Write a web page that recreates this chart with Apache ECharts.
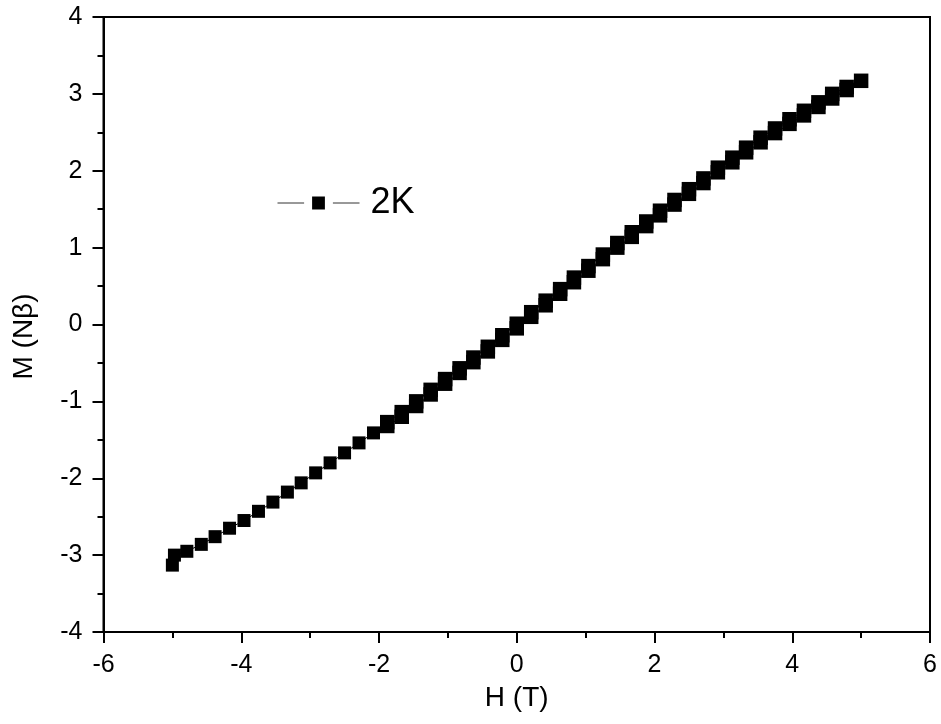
<!DOCTYPE html>
<html>
<head>
<meta charset="utf-8">
<script src="https://cdn.jsdelivr.net/npm/echarts@6/dist/echarts.min.js"></script>
<style>
html,body{margin:0;padding:0;background:#fff;}
#chart{width:941px;height:724px;}
</style>
</head>
<body>
<div id="chart"></div>
<script>
const seriesName = '2K';
// sweep: -5 T up to +5 T, then back down to about -1.9 T
const fieldH = [-5.00, -4.97, -4.79, -4.58, -4.38, -4.17, -3.96, -3.75, -3.54, -3.33, -3.13,
  -2.92, -2.71, -2.50, -2.29, -2.08, -1.88, -1.67, -1.46, -1.25, -1.04,
  -0.83, -0.63, -0.42, -0.21, 0.00, 0.21, 0.42, 0.63, 0.83, 1.04,
  1.25, 1.46, 1.67, 1.88, 2.08, 2.29, 2.50, 2.71, 2.92, 3.13,
  3.33, 3.54, 3.75, 3.96, 4.17, 4.38, 4.58, 4.79, 5.00,
  4.79, 4.58, 4.38, 4.17, 3.96, 3.75, 3.54, 3.33, 3.13, 2.92,
  2.71, 2.50, 2.29, 2.08, 1.88, 1.67, 1.46, 1.25, 1.04, 0.83,
  0.63, 0.42, 0.21, 0.00, -0.21, -0.42, -0.63, -0.83, -1.04, -1.25,
  -1.46, -1.67, -1.88];
const magnetM = [-3.13, -3.00, -2.95, -2.86, -2.76, -2.65, -2.55, -2.43, -2.31, -2.18, -2.06,
  -1.93, -1.80, -1.67, -1.54, -1.41, -1.32, -1.20, -1.06, -0.91, -0.77,
  -0.63, -0.49, -0.35, -0.20, -0.05, 0.10, 0.25, 0.40, 0.55, 0.70,
  0.85, 1.00, 1.14, 1.28, 1.42, 1.56, 1.70, 1.84, 1.98, 2.11,
  2.24, 2.37, 2.49, 2.61, 2.72, 2.83, 2.94, 3.05, 3.17,
  3.09, 3.00, 2.89, 2.78, 2.67, 2.55, 2.43, 2.30, 2.17, 2.04,
  1.90, 1.76, 1.62, 1.48, 1.34, 1.20, 1.06, 0.91, 0.76, 0.61,
  0.46, 0.31, 0.16, 0.01, -0.14, -0.29, -0.43, -0.57, -0.71, -0.85,
  -1.00, -1.14, -1.27];
const xTicks = ['-6', '-4', '-2', '0', '2', '4', '6'];
const yTicks = ['-4', '-3', '-2', '-1', '0', '1', '2', '3', '4'];

const points = fieldH.map((h, i) => [h, magnetM[i]]);
const font = '"Liberation Sans", Arial, sans-serif';
const chart = echarts.init(document.getElementById('chart'), null, {renderer: 'canvas'});
chart.setOption({
  backgroundColor: '#fff',
  animation: false,
  grid: {left: 103.5, right: 11, top: 17, bottom: 92, show: true, borderColor: '#000', borderWidth: 2, backgroundColor: 'transparent'},
  legend: {
    left: 277, top: 185, padding: 0,
    itemWidth: 82, itemHeight: 26,
    itemStyle: {color: '#000', borderColor: '#fff', borderWidth: 8},
    lineStyle: {color: '#333', width: 1},
    textStyle: {fontSize: 36, fontFamily: font, color: '#000', padding: [0, 0, 0, 6]},
    data: [seriesName]
  },
  xAxis: {
    type: 'value', min: -6, max: 6, interval: 2,
    name: 'H (T)', nameLocation: 'middle', nameGap: 52,
    nameTextStyle: {fontSize: 28, fontFamily: font, color: '#000'},
    axisLine: {show: true, onZero: false, lineStyle: {color: '#000', width: 2}},
    axisTick: {show: true, inside: false, length: 11, lineStyle: {color: '#000', width: 2}},
    minorTick: {show: true, splitNumber: 2, length: 6, lineStyle: {color: '#000', width: 2}},
    splitLine: {show: false},
    axisLabel: {fontSize: 25, fontFamily: font, color: '#000', margin: 21,
      formatter: v => xTicks[Math.round((v + 6) / 2)]}
  },
  yAxis: {
    type: 'value', min: -4, max: 4, interval: 1,
    name: 'M (N\u03b2)', nameLocation: 'middle', nameGap: 65, nameRotate: 90,
    nameTextStyle: {fontSize: 28, fontFamily: font, color: '#000', padding: [0, 24, 0, 0]},
    axisLine: {show: true, onZero: false, lineStyle: {color: '#000', width: 2}},
    axisTick: {show: true, inside: false, length: 11, lineStyle: {color: '#000', width: 2}},
    minorTick: {show: true, splitNumber: 2, length: 6, lineStyle: {color: '#000', width: 2}},
    splitLine: {show: false},
    axisLabel: {fontSize: 25, fontFamily: font, color: '#000', margin: 21,
      formatter: v => yTicks[Math.round(v + 4)]}
  },
  series: [{
    name: seriesName,
    type: 'line',
    data: points,
    symbol: 'rect',
    symbolSize: (value, params) => (value[0] > -1.95 ? 14.5 : 13),
    showAllSymbol: true,
    itemStyle: {color: '#000'},
    lineStyle: {color: '#000', width: 1},
    z: 3
  }]
});
</script>
</body>
</html>
